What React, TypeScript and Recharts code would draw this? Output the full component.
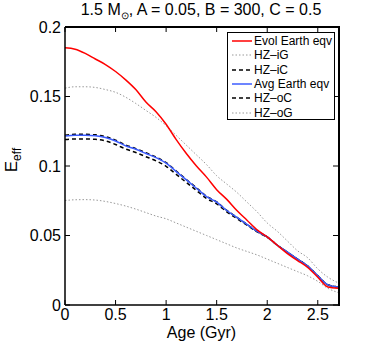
import React from "react";
import { LineChart, Line, XAxis, YAxis } from "recharts";

const ages = [0, 0.1, 0.2, 0.3, 0.4, 0.5, 0.6, 0.7, 0.8, 0.9, 1.0, 1.1, 1.2, 1.3, 1.4, 1.5, 1.6, 1.7, 1.8, 1.9, 2.0, 2.1, 2.2, 2.3, 2.4, 2.5, 2.6, 2.7];
const evolEarth = [0.185, 0.184, 0.181, 0.177, 0.173, 0.168, 0.162, 0.155, 0.146, 0.139, 0.13, 0.119, 0.109, 0.1, 0.092, 0.083, 0.076, 0.068, 0.061, 0.054, 0.049, 0.043, 0.037, 0.032, 0.027, 0.02, 0.013, 0.012];
const hzIG = [0.156, 0.157, 0.157, 0.1565, 0.155, 0.153, 0.1495, 0.145, 0.14, 0.135, 0.129, 0.122, 0.115, 0.108, 0.101, 0.093, 0.087, 0.081, 0.074, 0.067, 0.059, 0.053, 0.046, 0.039, 0.034, 0.026, 0.02, 0.016];
const hzIC = [0.1221, 0.1228, 0.1228, 0.1224, 0.1211, 0.1186, 0.1151, 0.1125, 0.1095, 0.1064, 0.1024, 0.0964, 0.0903, 0.0843, 0.0782, 0.0742, 0.0681, 0.0631, 0.058, 0.053, 0.049, 0.043, 0.038, 0.033, 0.028, 0.021, 0.0145, 0.013];
const avgEarth = [0.1215, 0.1222, 0.1222, 0.1218, 0.1205, 0.118, 0.1145, 0.112, 0.109, 0.106, 0.102, 0.096, 0.09, 0.084, 0.078, 0.074, 0.068, 0.063, 0.058, 0.053, 0.049, 0.043, 0.038, 0.033, 0.028, 0.021, 0.0145, 0.013];
const hzOC = [0.119, 0.1195, 0.1195, 0.1192, 0.118, 0.1155, 0.1122, 0.1097, 0.1067, 0.1037, 0.0998, 0.094, 0.0882, 0.0824, 0.0766, 0.0728, 0.067, 0.0622, 0.0574, 0.0526, 0.0487, 0.043, 0.038, 0.033, 0.028, 0.021, 0.0145, 0.013];
const hzOG = [0.0752, 0.0757, 0.0758, 0.0755, 0.0745, 0.073, 0.0712, 0.069, 0.0665, 0.064, 0.062, 0.059, 0.056, 0.053, 0.05, 0.047, 0.044, 0.041, 0.0385, 0.036, 0.033, 0.03, 0.027, 0.024, 0.021, 0.017, 0.012, 0.009];

const xTicks = [0, 0.5, 1, 1.5, 2, 2.5];
const yTicks = [0, 0.05, 0.1, 0.15, 0.2];
const X_MAX = 2.7;
const Y_MAX = 0.2;

const data = ages.map((age, i) => ({
  age,
  evol: evolEarth[i],
  hziG: hzIG[i],
  hziC: hzIC[i],
  avg: avgEarth[i],
  hzoC: hzOC[i],
  hzoG: hzOG[i],
}));

const FONT = "'Liberation Sans', Arial, Helvetica, sans-serif";

// chart layout (plot box follows from these)
const W = 374;
const H = 348;
const M = { top: 27, right: 36, left: 0, bottom: 0 };
const Y_AXIS_W = 65;
const X_AXIS_H = 43;
const plot = {
  left: M.left + Y_AXIS_W,
  right: W - M.right,
  top: M.top,
  bottom: H - M.bottom - X_AXIS_H,
};

const legendItems = [
  { name: "Evol Earth eqv", color: "#ff0000", dash: undefined, width: 1.5 },
  { name: "HZ\u2013iG", color: "#999", dash: "1.5 2", width: 1 },
  { name: "HZ\u2013iC", color: "#000", dash: "4 3", width: 1.5 },
  { name: "Avg Earth eqv", color: "#3c5cff", dash: undefined, width: 1.5 },
  { name: "HZ\u2013oC", color: "#000", dash: "4 3", width: 1.5 },
  { name: "HZ\u2013oG", color: "#999", dash: "1.5 2", width: 1 },
];

const fmtY = (v: number) => (v === 0 ? "0" : String(v));

// top + right box edges with inward ticks, like the matlab frame
function Frame() {
  const sx = (v: number) => plot.left + (v / X_MAX) * (plot.right - plot.left);
  const sy = (v: number) => plot.bottom - (v / Y_MAX) * (plot.bottom - plot.top);
  return (
    <>
      <div
        style={{
          position: "absolute",
          left: plot.left,
          top: plot.top - 1,
          width: plot.right - plot.left,
          height: plot.bottom - plot.top,
          borderTop: "2px solid #000",
          borderRight: "2px solid #000",
          pointerEvents: "none",
          zIndex: 5,
        }}
      />
      <svg width={W} height={H} style={{ position: "absolute", left: 0, top: 0, pointerEvents: "none", zIndex: 6 }}>
        {xTicks.map((t) => (
          <line key={`x${t}`} x1={sx(t)} x2={sx(t)} y1={plot.top} y2={plot.top + 5} stroke="#000" />
        ))}
        {yTicks.map((t) => (
          <line key={`y${t}`} x1={plot.right} x2={plot.right - 5} y1={sy(t)} y2={sy(t)} stroke="#000" />
        ))}
      </svg>
    </>
  );
}

export default function App() {
  const tickStyle = { fill: "#000", fontSize: 16, fontFamily: FONT };
  return (
    <div style={{ position: "absolute", left: 0, top: 0, width: W, height: H, background: "#fff", fontFamily: FONT, overflow: "hidden" }}>
      <div style={{ position: "absolute", left: 0, width: W, top: 1, paddingLeft: 28, boxSizing: "border-box", textAlign: "center", fontSize: 16, lineHeight: "18px" }}>
        1.5 M<sub style={{ fontSize: 10 }}>⊙</sub>, A = 0.05, B = 300, C = 0.5
      </div>
      <LineChart width={W} height={H} data={data} margin={M}>
        <XAxis
          dataKey="age"
          type="number"
          domain={[0, X_MAX]}
          ticks={xTicks}
          height={X_AXIS_H}
          tickSize={-5}
          tickMargin={9}
          stroke="#000"
          tick={tickStyle}
          axisLine={{ stroke: "#000", strokeWidth: 1.5 }}
        />
        <YAxis
          type="number"
          domain={[0, Y_MAX]}
          ticks={yTicks}
          width={Y_AXIS_W}
          tickSize={-5}
          tickMargin={9}
          tickFormatter={fmtY}
          stroke="#000"
          tick={tickStyle}
          axisLine={{ stroke: "#000", strokeWidth: 1.5 }}
        />
        <Line type="monotone" dataKey="hziG" stroke="#999" strokeWidth={1} strokeDasharray="1.5 2" dot={false} isAnimationActive={false} />
        <Line type="monotone" dataKey="hzoG" stroke="#999" strokeWidth={1} strokeDasharray="1.5 2" dot={false} isAnimationActive={false} />
        <Line type="monotone" dataKey="hziC" stroke="#000" strokeWidth={1.5} strokeDasharray="4 3" dot={false} isAnimationActive={false} />
        <Line type="monotone" dataKey="hzoC" stroke="#000" strokeWidth={1.5} strokeDasharray="4 3" dot={false} isAnimationActive={false} />
        <Line type="monotone" dataKey="avg" stroke="#3c5cff" strokeWidth={1.5} dot={false} isAnimationActive={false} />
        <Line type="monotone" dataKey="evol" stroke="#ff0000" strokeWidth={1.5} dot={false} isAnimationActive={false} />
      </LineChart>
      <Frame />
      <div
        style={{
          position: "absolute",
          left: 227,
          top: 32,
          width: 106,
          height: 85,
          border: "1px solid #000",
          background: "#fff",
          paddingTop: 1,
          boxSizing: "content-box",
          zIndex: 7,
        }}
      >
        {legendItems.map((it) => (
          <div key={it.name} style={{ display: "flex", alignItems: "center", height: 14.3, fontSize: 12, whiteSpace: "nowrap" }}>
            <svg width={22} height={10} style={{ marginLeft: 4, flexShrink: 0 }}>
              <line x1={0} y1={5} x2={20} y2={5} stroke={it.color} strokeWidth={it.width} strokeDasharray={it.dash} />
            </svg>
            <span>{it.name}</span>
          </div>
        ))}
      </div>
      <div style={{ position: "absolute", left: 0, width: W, paddingLeft: 29, boxSizing: "border-box", top: 324, textAlign: "center", fontSize: 16 }}>Age (Gyr)</div>
      <div
        style={{
          position: "absolute",
          left: 13,
          top: 160,
          transform: "translate(-50%, -50%) rotate(-90deg)",
          fontSize: 17,
          whiteSpace: "nowrap",
        }}
      >
        E<sub style={{ fontSize: 12 }}>eff</sub>
      </div>
    </div>
  );
}
